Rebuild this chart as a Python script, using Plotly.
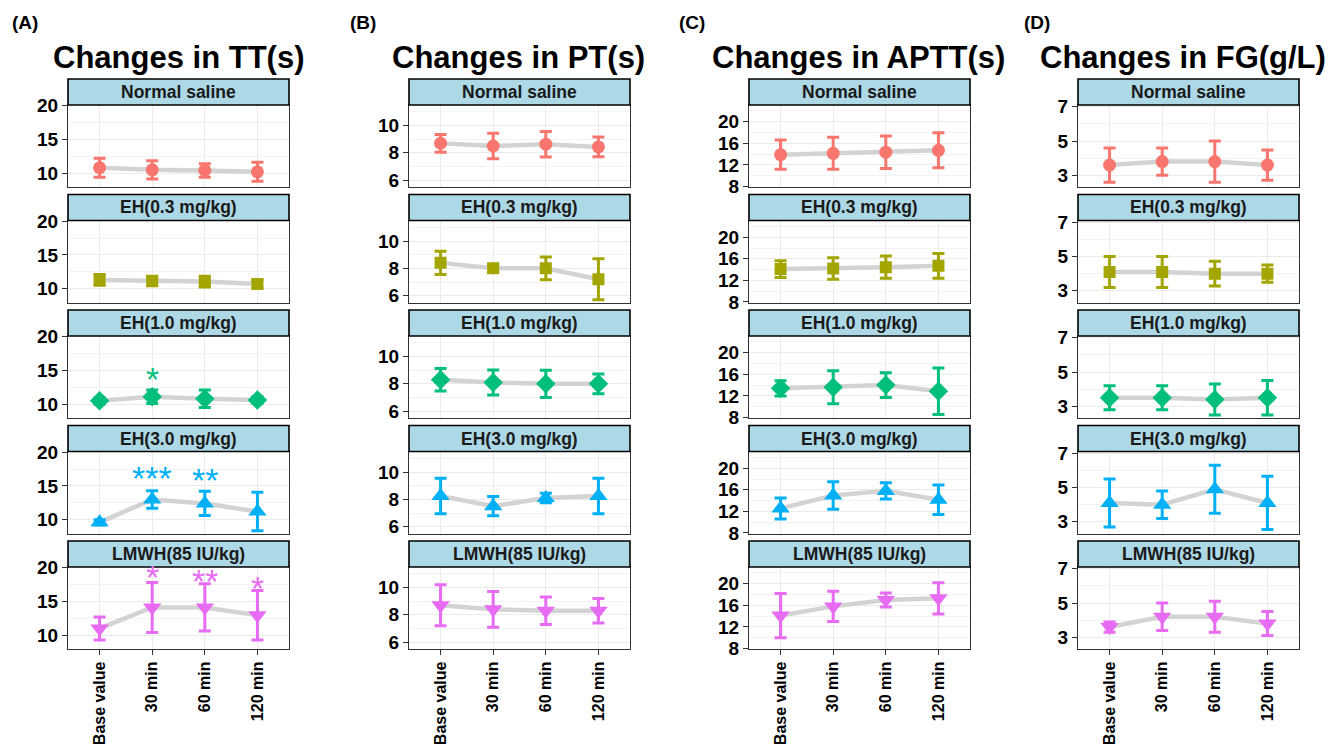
import plotly.graph_objects as go

# ---------------- data ----------------
categories = ["Base value", "30 min", "60 min", "120 min"]
groups = ["Normal saline", "EH(0.3 mg/kg)", "EH(1.0 mg/kg)", "EH(3.0 mg/kg)", "LMWH(85 IU/kg)"]

tt_mean = [[10.8, 10.5, 10.4, 10.2],
           [11.3, 11.15, 11.05, 10.7],
           [10.5, 11.1, 10.8, 10.6],
           [9.6, 13.0, 12.4, 11.2],
           [11.0, 14.1, 14.1, 12.95]]
tt_sd = [[1.4, 1.35, 1.0, 1.4],
         [0.8, 0.7, 0.8, 0.6],
         [0.5, 1.0, 1.3, 0.5],
         [0.4, 1.3, 1.8, 2.85],
         [1.7, 3.7, 3.5, 3.65]]

pt_mean = [[8.7, 8.5, 8.63, 8.43],
           [8.4, 8.0, 8.0, 7.2],
           [8.3, 8.1, 8.0, 8.0],
           [8.25, 7.5, 8.1, 8.25],
           [8.7, 8.4, 8.3, 8.3]]
pt_sd = [[0.65, 0.93, 0.93, 0.72],
         [0.85, 0.3, 0.83, 1.5],
         [0.82, 0.92, 1.0, 0.72],
         [1.3, 0.7, 0.35, 1.3],
         [1.5, 1.3, 1.0, 0.9]]

aptt_mean = [[13.9, 14.15, 14.35, 14.7],
             [14.1, 14.2, 14.45, 14.7],
             [13.4, 13.6, 14.0, 12.85],
             [12.55, 14.95, 15.8, 14.15],
             [14.1, 15.8, 17.0, 17.3]]
aptt_sd = [[2.7, 2.95, 3.0, 3.25],
           [1.55, 2.0, 2.05, 2.3],
           [1.4, 3.05, 2.3, 4.3],
           [1.95, 2.55, 1.5, 2.75],
           [4.1, 2.8, 1.3, 2.9]]

fg_mean = [[3.6, 3.8, 3.8, 3.6],
           [4.1, 4.1, 4.0, 4.0],
           [3.5, 3.5, 3.4, 3.5],
           [4.1, 4.0, 4.9, 4.1],
           [3.6, 4.2, 4.2, 3.8]]
fg_sd = [[1.0, 0.8, 1.2, 0.88],
         [0.9, 0.9, 0.72, 0.5],
         [0.7, 0.7, 0.9, 1.0],
         [1.4, 0.8, 1.4, 1.55],
         [0.3, 0.8, 0.9, 0.7]]

panel_letters = ["(A)", "(B)", "(C)", "(D)"]
panel_titles = ["Changes in TT(s)", "Changes in PT(s)", "Changes in APTT(s)", "Changes in FG(g/L)"]
panel_yticks = [[10, 15, 20], [6, 8, 10], [8, 12, 16, 20], [3, 5, 7]]

# significance marks (TT panel only)
tt_star_group = [2, 3, 3, 4, 4, 4]
tt_star_time = ["30 min", "30 min", "60 min", "30 min", "60 min", "120 min"]
tt_star_text = ["*", "***", "**", "*", "**", "*"]
tt_star_y = [14.45, 16.9, 16.6, 19.4, 18.8, 17.8]

# ---------------- styling / layout ----------------
W, H = 1329, 744
FONT = "Liberation Sans, Arial, sans-serif"
colors = ["#F8766D", "#A3A500", "#00BF7D", "#00B0F6", "#E76BF3"]
symbols = ["circle", "square", "diamond", "triangle-up", "triangle-down"]
msizes = [13, 12, 15, 16, 16]

panel_x = [(68, 289), (409, 630), (749, 970), (1078, 1299)]
panel_yrange = [[7.95, 20.1], [5.5, 11.5], [7.9, 23.1], [2.32, 7.1]]
panel_minor = [2.5, 1, 2, 1]
title_cx = [178, 518, 858, 1183]
letter_x = [10, 348, 677, 1022]
ROW_PITCH = 115.5
STRIP_TOP0, PLOT_TOP0, PLOT_BOT0 = 79, 105, 187

means = [tt_mean, pt_mean, aptt_mean, fg_mean]
sds = [tt_sd, pt_sd, aptt_sd, fg_sd]

def px(x):
    return x / W

def py(y):
    return 1 - y / H

fig = go.Figure()
layout = {}
shapes = []
annotations = []

for p in range(4):
    x0, x1 = panel_x[p]
    for r in range(5):
        n = p * 5 + r + 1
        xa = "x" if n == 1 else f"x{n}"
        ya = "y" if n == 1 else f"y{n}"
        top = PLOT_TOP0 + ROW_PITCH * r
        bot = PLOT_BOT0 + ROW_PITCH * r
        stop = STRIP_TOP0 + ROW_PITCH * r
        m = means[p][r]
        s = sds[p][r]
        fig.add_trace(go.Scatter(x=categories, y=m, mode="lines", xaxis=xa, yaxis=ya,
                                 line=dict(color="#D3D3D3", width=4.5), showlegend=False,
                                 hoverinfo="skip"))
        fig.add_trace(go.Scatter(x=categories, y=m, mode="markers", xaxis=xa, yaxis=ya,
                                 marker=dict(color=colors[r], symbol=symbols[r], size=msizes[r],
                                             line=dict(width=0)),
                                 error_y=dict(type="data", array=s, visible=True,
                                              color=colors[r], thickness=3, width=6),
                                 showlegend=False, name=groups[r]))
        bottom_row = (r == 4)
        layout["xaxis" if n == 1 else f"xaxis{n}"] = dict(
            domain=[px(x0), px(x1)], anchor=ya, type="category", automargin=False,
            range=[-0.6, 3.6], showgrid=True, gridcolor="#EBEBEB", gridwidth=1.2,
            showline=True, mirror=True, linecolor="#333333", linewidth=1.3,
            zeroline=False, fixedrange=True,
            ticks="outside" if bottom_row else "", ticklen=5, tickcolor="#333333",
            showticklabels=bottom_row, tickangle=-90,
            tickfont=dict(family=FONT, size=16, color="black", weight="bold"),
        )
        layout["yaxis" if n == 1 else f"yaxis{n}"] = dict(
            domain=[py(bot), py(top)], anchor=xa, range=panel_yrange[p], automargin=False,
            tickvals=panel_yticks[p], showgrid=True, gridcolor="#EBEBEB", gridwidth=1.2,
            minor=dict(dtick=panel_minor[p], tick0=0, showgrid=True, gridcolor="#F3F3F3",
                       gridwidth=0.8, ticks=""),
            showline=True, mirror=True, linecolor="#333333", linewidth=1.3,
            zeroline=False, fixedrange=True, ticks="outside", ticklen=5, tickcolor="#333333",
            tickfont=dict(family=FONT, size=19, color="black", weight="bold"),
        )
        shapes.append(dict(type="rect", xref="paper", yref="paper",
                           x0=px(x0), x1=px(x1), y0=py(top), y1=py(stop),
                           fillcolor="#ADD8E6", line=dict(color="black", width=1.6),
                           layer="above"))
        annotations.append(dict(xref="paper", yref="paper", x=px((x0 + x1) / 2),
                                y=py((top + stop) / 2), text=groups[r], showarrow=False,
                                xanchor="center", yanchor="middle",
                                font=dict(family=FONT, size=17.5, color="#1A1A1A", weight="bold")))
    annotations.append(dict(xref="paper", yref="paper", x=px(letter_x[p]), y=py(23),
                            text=panel_letters[p], showarrow=False, xanchor="left",
                            yanchor="middle",
                            font=dict(family=FONT, size=19, color="black", weight="bold")))
    annotations.append(dict(xref="paper", yref="paper", x=px(title_cx[p]), y=py(57),
                            text=panel_titles[p], showarrow=False, xanchor="center",
                            yanchor="middle",
                            font=dict(family=FONT, size=31, color="black", weight="bold")))

for g, t, txt, yv in zip(tt_star_group, tt_star_time, tt_star_text, tt_star_y):
    n = g + 1
    annotations.append(dict(xref="x" if n == 1 else f"x{n}", yref="y" if n == 1 else f"y{n}",
                            x=t, y=yv, text=txt, showarrow=False, xanchor="center",
                            yanchor="middle", yshift=-5,
                            font=dict(family=FONT, size=34, color=colors[g])))

layout.update(dict(width=W, height=H, margin=dict(l=0, r=0, t=0, b=0, autoexpand=False),
                   paper_bgcolor="white", plot_bgcolor="white",
                   shapes=shapes, annotations=annotations, showlegend=False))
fig.update_layout(**layout)
fig.write_html("out.html", config={"displayModeBar": False},
               post_script="document.body.style.margin='0';")
